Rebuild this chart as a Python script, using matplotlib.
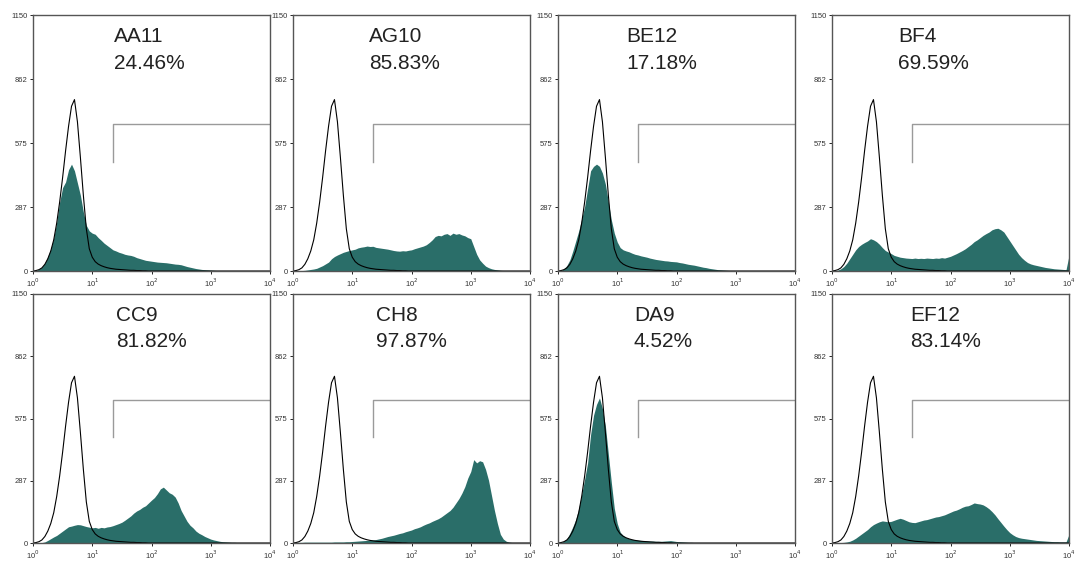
import numpy as np
import matplotlib
matplotlib.use('Agg')
import matplotlib.pyplot as plt

plt.rcParams['font.family'] = ['Liberation Sans', 'DejaVu Sans']

# histogram bins: log10 channel from 0 to 4 in steps of 0.05 (81 bins)
log_bins = np.linspace(0, 4, 81)

# isotype control (open histogram), same in every panel
control = [0, 2, 6, 14, 30, 55, 90, 140, 215, 310, 420, 540, 650, 740, 770, 670,
           510, 340, 190, 100, 62, 42, 31, 24, 19, 15, 12, 10, 8, 7, 6, 5, 4, 3, 3,
           2, 2, 1, 1] + [0] * 42

# stained samples (filled histograms)
aa11 = [0, 2, 8, 18, 35, 65, 100, 150, 220, 310, 375, 400, 455, 480, 450, 395,
        340, 265, 205, 180, 170, 165, 150, 138, 125, 115, 105, 95, 90, 84, 80, 75,
        72, 70, 66, 60, 56, 52, 48, 46, 44, 42, 40, 39, 38, 37, 35, 33, 31, 30,
        28, 24, 20, 17, 14, 11, 9, 7, 6, 5, 4, 3, 2, 2, 1] + [0] * 16
ag10 = [0, 0, 1, 2, 3, 5, 7, 9, 12, 18, 24, 32, 40, 55, 65, 72, 78, 84, 88, 92,
        95, 98, 104, 107, 109, 112, 110, 111, 106, 104, 102, 100, 98, 95, 92, 90,
        89, 91, 90, 93, 95, 100, 104, 108, 112, 118, 128, 140, 155, 160, 158, 165,
        168, 160, 170, 165, 168, 162, 158, 150, 145, 110, 75, 50, 35, 22, 15, 10,
        7, 5, 3, 2, 1] + [0] * 8
be12 = [0, 3, 10, 25, 50, 90, 135, 180, 235, 290, 370, 450, 470, 480, 470, 440,
        390, 310, 230, 170, 130, 105, 95, 90, 86, 80, 75, 72, 68, 65, 62, 58, 55,
        52, 50, 48, 46, 45, 43, 42, 41, 38, 36, 33, 30, 28, 26, 23, 20, 17, 15,
        12, 10, 8, 6, 5, 4, 3, 2, 1] + [0] * 21
bf4 = [0, 1, 4, 10, 20, 35, 55, 75, 95, 110, 120, 128, 135, 145, 140, 132, 120,
       105, 92, 85, 78, 70, 66, 62, 60, 58, 57, 56, 58, 56, 57, 56, 58, 57, 56,
       58, 57, 60, 58, 62, 66, 72, 78, 85, 92, 100, 110, 120, 132, 140, 150, 160,
       168, 175, 185, 190, 192, 185, 175, 155, 135, 115, 95, 75, 60, 48, 38, 32,
       28, 25, 22, 19, 16, 14, 12, 10, 9, 8, 7, 6, 70]
cc9 = [0, 0, 0, 2, 5, 12, 20, 28, 35, 45, 55, 65, 75, 78, 82, 85, 84, 80, 76, 73,
       70, 72, 68, 72, 70, 74, 76, 80, 85, 90, 96, 105, 115, 125, 138, 148, 155,
       165, 172, 185, 198, 210, 228, 250, 258, 245, 232, 225, 212, 185, 150, 125,
       100, 82, 70, 55, 45, 38, 30, 24, 18, 14, 11, 8, 6, 5, 4, 3, 3, 2, 2, 1,
       1] + [0] * 8
ch8 = [3, 3, 3, 3, 4, 4, 4, 4, 4, 4, 4, 4, 4, 4, 5, 5, 5, 5, 6, 6, 7, 8, 9, 10,
       11, 12, 13, 14, 16, 19, 22, 26, 30, 33, 36, 40, 44, 47, 52, 56, 60, 66, 70,
       75, 82, 88, 93, 100, 106, 112, 120, 130, 140, 150, 165, 185, 205, 230, 260,
       300, 330, 385, 370, 380, 375, 340, 290, 220, 150, 90, 40, 18, 8, 4, 2,
       1] + [0] * 5
da9 = [0, 3, 8, 20, 45, 75, 110, 160, 225, 295, 370, 500, 590, 640, 670, 620,
       540, 410, 280, 160, 90, 50, 35, 25, 20, 17, 15, 13, 12, 11, 10, 9, 9, 8, 8,
       8, 9, 10, 11, 9, 7, 6, 5, 4, 3, 3, 2, 2, 1, 1] + [0] * 31
ef12 = [0, 0, 1, 2, 3, 5, 8, 14, 22, 32, 42, 52, 62, 75, 85, 92, 98, 102, 100,
        98, 100, 105, 110, 114, 110, 104, 98, 95, 94, 98, 102, 106, 108, 112, 116,
        120, 122, 126, 130, 136, 142, 148, 152, 158, 165, 170, 172, 178, 185, 182,
        180, 176, 168, 158, 145, 130, 112, 95, 78, 62, 48, 38, 30, 25, 22, 20, 18,
        16, 14, 12, 11, 10, 9, 8, 7, 6, 6, 5, 5, 5, 40]

names = ['AA11', 'AG10', 'BE12', 'BF4', 'CC9', 'CH8', 'DA9', 'EF12']
percents = ['24.46%', '85.83%', '17.18%', '69.59%',
            '81.82%', '97.87%', '4.52%', '83.14%']
samples = [aa11, ag10, be12, bf4, cc9, ch8, da9, ef12]

y_ticks = [0, 287, 575, 862, 1150]
x_ticks = [1, 10, 100, 1000, 10000]
x_ticklabels = ['10$^0$', '10$^1$', '10$^2$', '10$^3$', '10$^4$']

# marker gate (M1)
gate_start = 22
gate_top = 660
gate_bottom = 490

fill_color = '#2a6e69'

fig = plt.figure(figsize=(10.77, 5.61), dpi=100)
W, H = 1077.0, 561.0
col_left = [33, 293, 558, 832]
rows = [(15, 256), (294, 249)]   # top, height in pixels
label_x = [0.34, 0.32, 0.29, 0.28, 0.35, 0.35, 0.32, 0.33]

x = 10 ** log_bins
for i in range(8):
    r, c = divmod(i, 4)
    top, h = rows[r]
    ax = fig.add_axes([col_left[c] / W, 1 - (top + h) / H, 237 / W, h / H])

    ax.fill_between(x, samples[i], color=fill_color, lw=0)
    ax.plot(x, control, color='black', lw=0.8)

    # gate bracket
    ax.plot([gate_start, gate_start, 10000], [gate_bottom, gate_top, gate_top],
            color='#9a9a9a', lw=1)

    ax.set_xscale('log')
    ax.set_xlim(1, 10000)
    ax.set_ylim(0, 1150)
    ax.set_xticks(x_ticks)
    ax.set_xticklabels(x_ticklabels)
    ax.minorticks_off()
    ax.set_yticks(y_ticks)
    ax.tick_params(labelsize=5.5, length=2.5, width=0.6, pad=1.5,
                   labelcolor='#333333')
    for s in ax.spines.values():
        s.set_color('#555555')
        s.set_linewidth(1)

    ax.text(label_x[i], 0.915, names[i], transform=ax.transAxes, fontsize=15,
            va='center', ha='left', color='#222222')
    ax.text(label_x[i], 0.81, percents[i], transform=ax.transAxes, fontsize=15,
            va='center', ha='left', color='#222222')

plt.savefig('out.png', dpi=100)
